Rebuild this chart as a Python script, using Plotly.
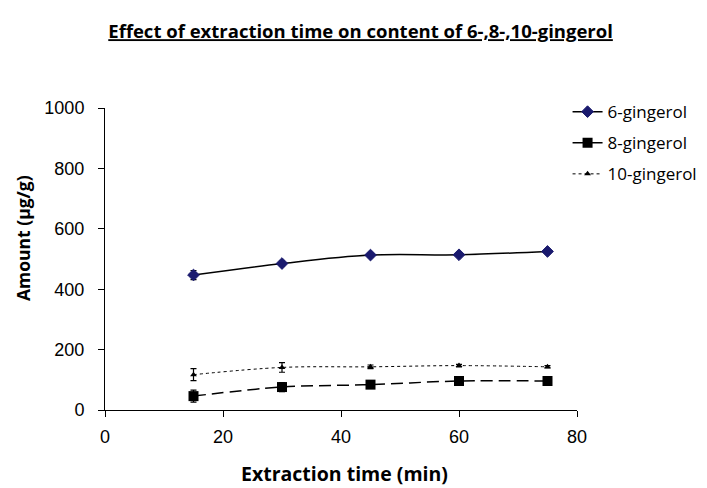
import plotly.graph_objects as go

time_min = [15, 30, 45, 60, 75]
g6 = [447, 485, 513, 514, 525]
g6_err = [15, 8, 6, 5, 6]
g8 = [46, 76, 84, 96, 96]
g8_err = [20, 15, 6, 5, 5]
g10 = [117, 141, 143, 147, 143]
g10_err = [20, 16, 6, 4, 4]

fig = go.Figure()
fig.add_trace(go.Scatter(
    x=time_min, y=g6, name="6-gingerol", mode="lines+markers",
    line=dict(color="black", width=1.5, shape="spline"),
    marker=dict(symbol="diamond", size=9, color="#1a1a6e", line=dict(color="#1a1a6e", width=1)),
    error_y=dict(type="data", array=g6_err, color="black", thickness=1.2, width=3),
    legendgroup="a"))
fig.add_trace(go.Scatter(
    x=time_min, y=g8, name="8-gingerol", mode="lines+markers",
    line=dict(color="black", width=1.5, dash="12px,6px", shape="spline"),
    marker=dict(symbol="square", size=10, color="black"),
    error_y=dict(type="data", array=g8_err, color="black", thickness=1.2, width=3),
    legendgroup="b"))
fig.add_trace(go.Scatter(
    x=time_min, y=g10, name="10-gingerol", mode="lines+markers",
    line=dict(color="black", width=1, dash="dot", shape="spline"),
    marker=dict(symbol="triangle-up", size=6, color="black"),
    error_y=dict(type="data", array=g10_err, color="black", thickness=1.2, width=3),
    legendgroup="c"))

fig.update_layout(
    width=707, height=488,
    margin=dict(l=105, r=130, t=108, b=78, autoexpand=False),
    paper_bgcolor="white", plot_bgcolor="white",
    title=dict(text="<b><u>Effect of extraction time on content of 6-,8-,10-gingerol</u></b>",
               x=0.51, xanchor="center", y=0.935, yanchor="middle",
               font=dict(family="Open Sans", size=18.5, color="black")),
    font=dict(family="Liberation Sans", size=18, color="black"),
    legend=dict(x=0.98, xanchor="left", y=1.046, yanchor="top",
                tracegroupgap=6, font=dict(family="Open Sans", size=17),
                bgcolor="rgba(0,0,0,0)"),
    xaxis=dict(range=[0, 80], tickvals=[0, 20, 40, 60, 80], showgrid=False, zeroline=False,
               showline=True, linecolor="black", linewidth=1, ticks="outside",
               ticklen=6, tickcolor="black", ticklabelstandoff=4),
    yaxis=dict(range=[0, 1000], tickvals=[0, 200, 400, 600, 800, 1000], showgrid=False,
               zeroline=False, showline=True, linecolor="black", linewidth=1,
               ticks="outside", ticklen=6, tickcolor="black", ticklabelstandoff=10),
    annotations=[
        dict(text="<b>Extraction time (min)</b>", xref="paper", yref="paper",
             x=(344 - 105) / 472, y=-(473 - 410) / 302, xanchor="center", yanchor="middle",
             showarrow=False, font=dict(family="Open Sans", size=19.5)),
        dict(text="<b>Amount (µg/g)</b>", xref="paper", yref="paper", textangle=-90,
             x=-(105 - 23) / 472, y=(410 - 238) / 302, xanchor="center", yanchor="middle",
             showarrow=False, font=dict(family="Open Sans", size=17.5)),
    ],
)
fig.write_html("out.html")
